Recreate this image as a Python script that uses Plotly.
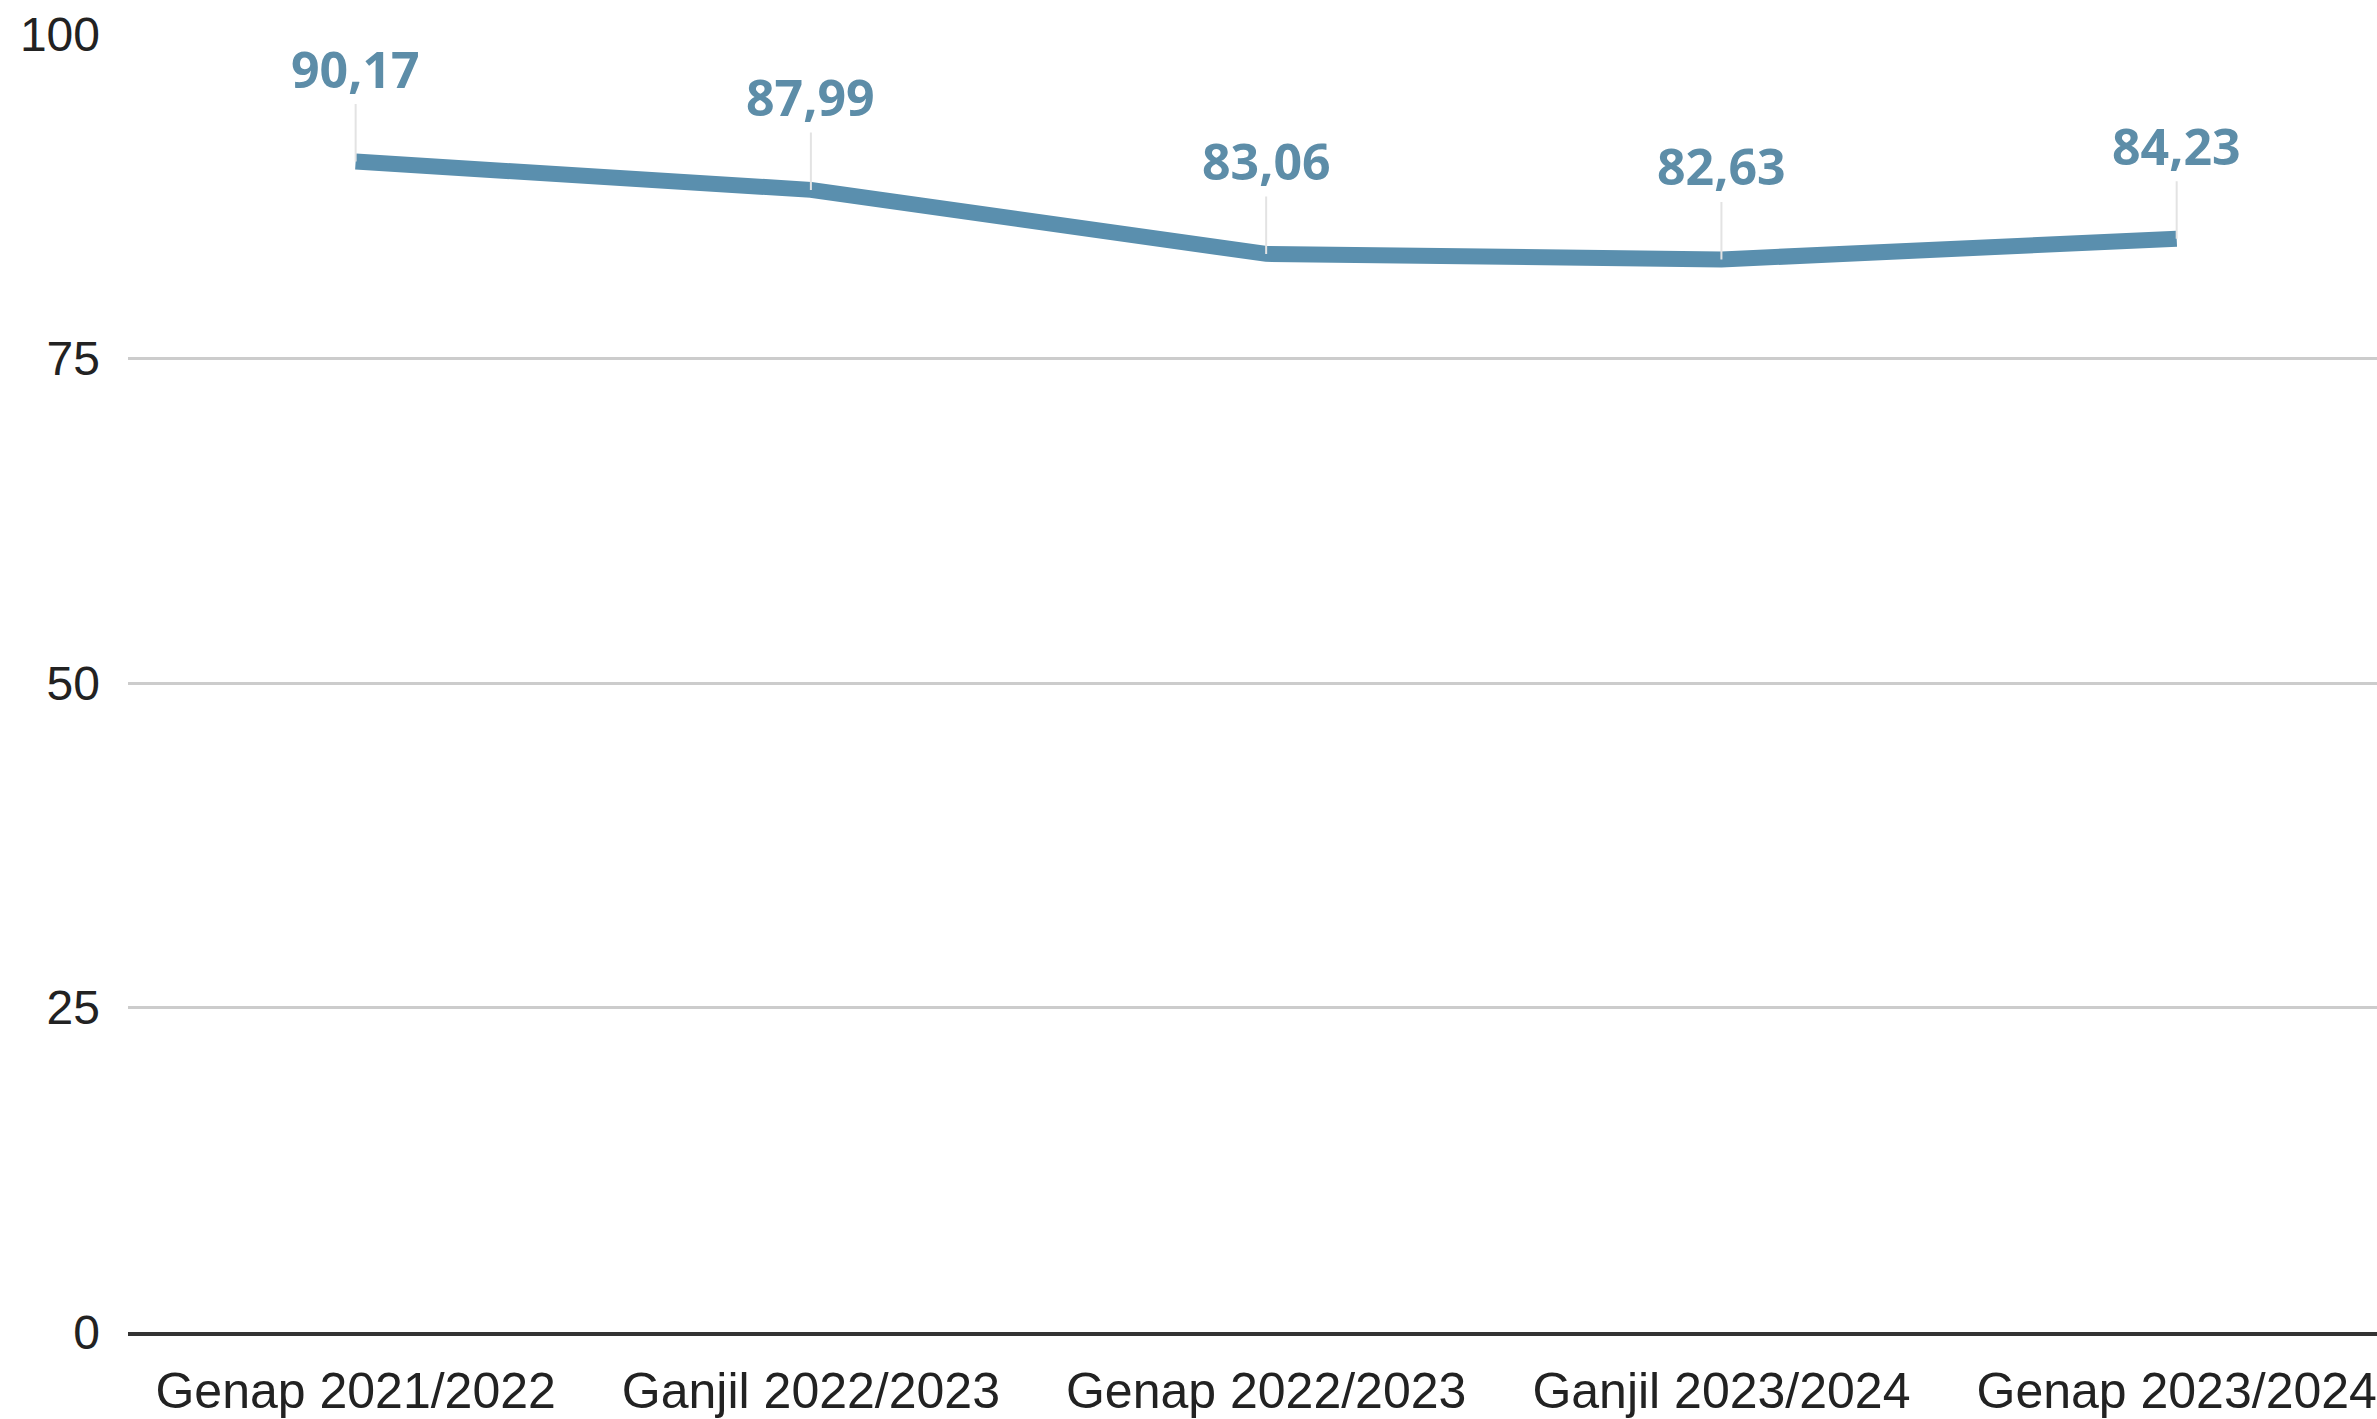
import plotly.graph_objects as go

# Semester categories and average scores
semesters = ["Genap 2021/2022", "Ganjil 2022/2023", "Genap 2022/2023",
             "Ganjil 2023/2024", "Genap 2023/2024"]
scores = [90.17, 87.99, 83.06, 82.63, 84.23]
y_ticks = [0, 25, 50, 75, 100]

LINE_COLOR = "#5a8fae"
LABEL_COLOR = "#5d8da8"

fig = go.Figure()
fig.add_trace(go.Scatter(
    x=semesters, y=scores, mode="lines",
    line=dict(color=LINE_COLOR, width=16),
    hoverinfo="skip", showlegend=False,
))

# Value labels with thin leader lines
for s, v in zip(semesters, scores):
    fig.add_annotation(
        x=s, y=v, xref="x", yref="y",
        text=f"{v:.2f}".replace(".", ","),
        showarrow=True, arrowhead=0, arrowwidth=2, arrowcolor="#e3e3e3",
        ax=0, ay=-93, standoff=0,
        font=dict(family="Open Sans", size=50, color=LABEL_COLOR, weight="bold"),
    )

fig.update_layout(
    width=2377, height=1419, autosize=False,
    margin=dict(l=128, r=0, t=34, b=83),
    paper_bgcolor="white", plot_bgcolor="white",
    xaxis=dict(
        type="category", range=[-0.5, 4.44],
        showgrid=False, showline=True, linecolor="#333333", linewidth=4,
        ticks="", tickfont=dict(family="Liberation Sans", size=50, color="#222222"),
        ticklabelstandoff=12,
    ),
    yaxis=dict(
        range=[0, 100], tickvals=y_ticks, ticktext=[str(t) for t in y_ticks],
        showgrid=True, gridcolor="#cccccc", gridwidth=3,
        zeroline=False, showline=False, ticks="",
        tickfont=dict(family="Liberation Sans", size=48, color="#222222"),
        ticklabelstandoff=27,
    ),
)

fig.write_html("out.html")
